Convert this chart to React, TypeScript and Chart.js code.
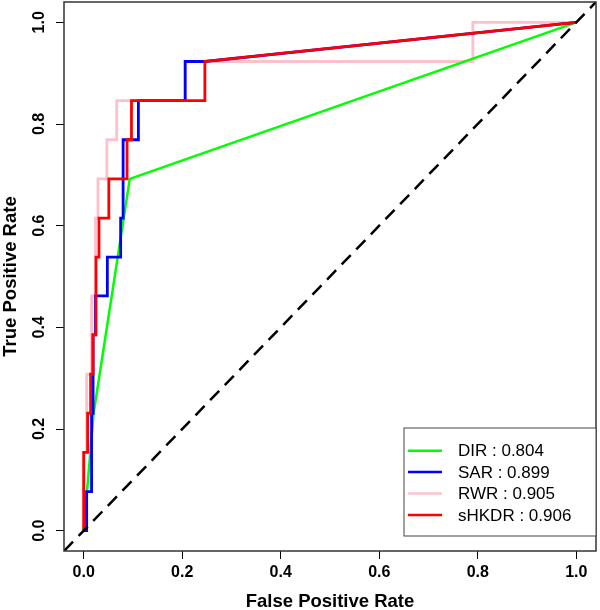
import React, { useEffect, useRef } from "react";
import { Chart, registerables } from "chart.js";

Chart.register(...registerables);

// ---- Data ----
const seriesNames = ["DIR", "SAR", "RWR", "sHKDR"];
const aucValues = [0.804, 0.899, 0.905, 0.906];
const seriesColors = ["#00ff00", "#0000ff", "#ffc0cb", "#ff0000"];

const dirFpr = [0, 0.02, 0.0935, 1];
const dirTpr = [0, 0.23, 0.692, 1];

const sarFpr = [0, 0.006, 0.006, 0.016, 0.016, 0.019, 0.019, 0.024, 0.024, 0.048, 0.048, 0.075, 0.075, 0.08, 0.08, 0.111, 0.111, 0.206, 0.206, 0.246, 1];
const sarTpr = [0, 0, 0.077, 0.077, 0.231, 0.231, 0.385, 0.385, 0.462, 0.462, 0.538, 0.538, 0.615, 0.615, 0.769, 0.769, 0.846, 0.846, 0.923, 0.923, 1];

const rwrFpr = [0, 0, 0.006, 0.006, 0.016, 0.016, 0.024, 0.024, 0.029, 0.029, 0.047, 0.047, 0.067, 0.067, 0.206, 0.206, 0.79, 0.79, 1];
const rwrTpr = [0, 0.154, 0.154, 0.308, 0.308, 0.462, 0.462, 0.615, 0.615, 0.692, 0.692, 0.769, 0.769, 0.846, 0.846, 0.923, 0.923, 1, 1];

const shkdrFpr = [0, 0, 0.008, 0.008, 0.014, 0.014, 0.019, 0.019, 0.025, 0.025, 0.031, 0.031, 0.051, 0.051, 0.088, 0.088, 0.097, 0.097, 0.246, 0.246, 1];
const shkdrTpr = [0, 0.154, 0.154, 0.231, 0.231, 0.308, 0.308, 0.385, 0.385, 0.538, 0.538, 0.615, 0.615, 0.692, 0.692, 0.769, 0.769, 0.846, 0.846, 0.923, 1];

const diagonal = [-0.04, 1.04];
const axisTicks = [0, 0.2, 0.4, 0.6, 0.8, 1.0];
const axisRange = [-0.04, 1.04];

const xTitle = "False Positive Rate";
const yTitle = "True Positive Rate";

const FONT = "'Liberation Sans', Arial, Helvetica, sans-serif";

const toPoints = (xs: number[], ys: number[]) => xs.map((x, i) => ({ x, y: ys[i] }));

const boxPlugin = {
  id: "boxPlugin",
  afterDatasetsDraw(chart: any) {
    const { ctx, chartArea: a } = chart;
    ctx.save();
    ctx.strokeStyle = "#333";
    ctx.lineWidth = 1.5;
    ctx.strokeRect(a.left, a.top, a.right - a.left, a.bottom - a.top);
    ctx.restore();
  },
};

const legendPlugin = {
  id: "rocLegend",
  afterDraw(chart: any) {
    const { ctx, chartArea: a } = chart;
    const right = a.right;
    const bottom = a.bottom - 15;
    const left = right - 192;
    const top = bottom - 108;
    ctx.save();
    ctx.fillStyle = "#fff";
    ctx.fillRect(left, top, right - left, bottom - top);
    ctx.strokeStyle = "#444";
    ctx.lineWidth = 1;
    ctx.strokeRect(left, top, right - left, bottom - top);
    ctx.font = `17px ${FONT}`;
    ctx.textBaseline = "middle";
    ctx.textAlign = "left";
    chart.data.datasets.forEach((ds: any) => {
      if (!ds.legendText) return;
      const y = top + 22.7 + ds.legendIndex * 21.4;
      ctx.strokeStyle = ds.borderColor;
      ctx.lineWidth = 2.5;
      ctx.beginPath();
      ctx.moveTo(left + 4, y);
      ctx.lineTo(left + 38, y);
      ctx.stroke();
      ctx.fillStyle = "#000";
      ctx.fillText(ds.legendText, left + 54, y + 1);
    });
    ctx.restore();
  },
};

const seriesFpr = [dirFpr, sarFpr, rwrFpr, shkdrFpr];
const seriesTpr = [dirTpr, sarTpr, rwrTpr, shkdrTpr];
const drawOrder = [3, 2, 4, 1];
const lineWidths = [2.5, 2.8, 2.8, 2.8];

export default function App() {
  const ref = useRef<HTMLCanvasElement | null>(null);

  useEffect(() => {
    if (!ref.current) return;
    const datasets: any[] = seriesNames.map((name, i) => ({
      label: name,
      legendText: `${name} : ${aucValues[i].toFixed(3)}`,
      legendIndex: i,
      data: toPoints(seriesFpr[i], seriesTpr[i]),
      borderColor: seriesColors[i],
      backgroundColor: seriesColors[i],
      borderWidth: lineWidths[i],
      showLine: true,
      pointRadius: 0,
      tension: 0,
      fill: false,
      order: drawOrder[i],
    }));
    datasets.push({
      label: "diagonal",
      data: toPoints(diagonal, diagonal),
      borderColor: "#000",
      borderWidth: 2.5,
      borderDash: [13, 8],
      showLine: true,
      pointRadius: 0,
      fill: false,
      order: 0,
    });

    const axisBase = (title: string, isY: boolean) => ({
      type: "linear",
      min: axisRange[0],
      max: axisRange[1],
      afterBuildTicks: (scale: any) => {
        scale.ticks = axisTicks.map((v) => ({ value: v }));
      },
      afterFit: (scale: any) => {
        if (isY) {
          scale.width = 64;
          scale.paddingTop = 0;
          scale.paddingBottom = 0;
        } else {
          scale.height = 59;
          scale.paddingLeft = 0;
          scale.paddingRight = 0;
        }
      },
      grid: {
        drawOnChartArea: false,
        drawTicks: true,
        tickLength: 8,
        tickWidth: 1,
        tickColor: "#000",
      },
      border: { display: false },
      ticks: {
        color: "#000",
        font: { family: FONT, size: 16, weight: "bold" },
        padding: isY ? 5 : 4,
        callback: (v: any) => Number(v).toFixed(1),
        ...(isY ? { minRotation: 90, maxRotation: 90, crossAlign: "center" } : { maxRotation: 0 }),
      },
      title: {
        display: true,
        text: title,
        color: "#000",
        font: { family: FONT, size: 18.5, weight: "bold", lineHeight: 0.9 },
        padding: isY ? { top: 3, bottom: 0 } : { top: 0, bottom: 0 },
      },
    });

    const chart = new Chart(ref.current, {
      type: "scatter",
      data: { datasets },
      options: {
        responsive: false,
        animation: false,
        layout: { padding: { top: 2, right: 4, left: 0, bottom: 0 } },
        plugins: { legend: { display: false }, tooltip: { enabled: false } },
        scales: {
          x: axisBase(xTitle, false) as any,
          y: axisBase(yTitle, true) as any,
        },
      },
      plugins: [boxPlugin, legendPlugin],
    });
    return () => chart.destroy();
  }, []);

  return (
    <div style={{ position: "absolute", left: 0, top: 0, width: 600, height: 610, background: "#fff" }}>
      <canvas ref={ref} width={600} height={610} style={{ width: 600, height: 610 }} />
    </div>
  );
}
